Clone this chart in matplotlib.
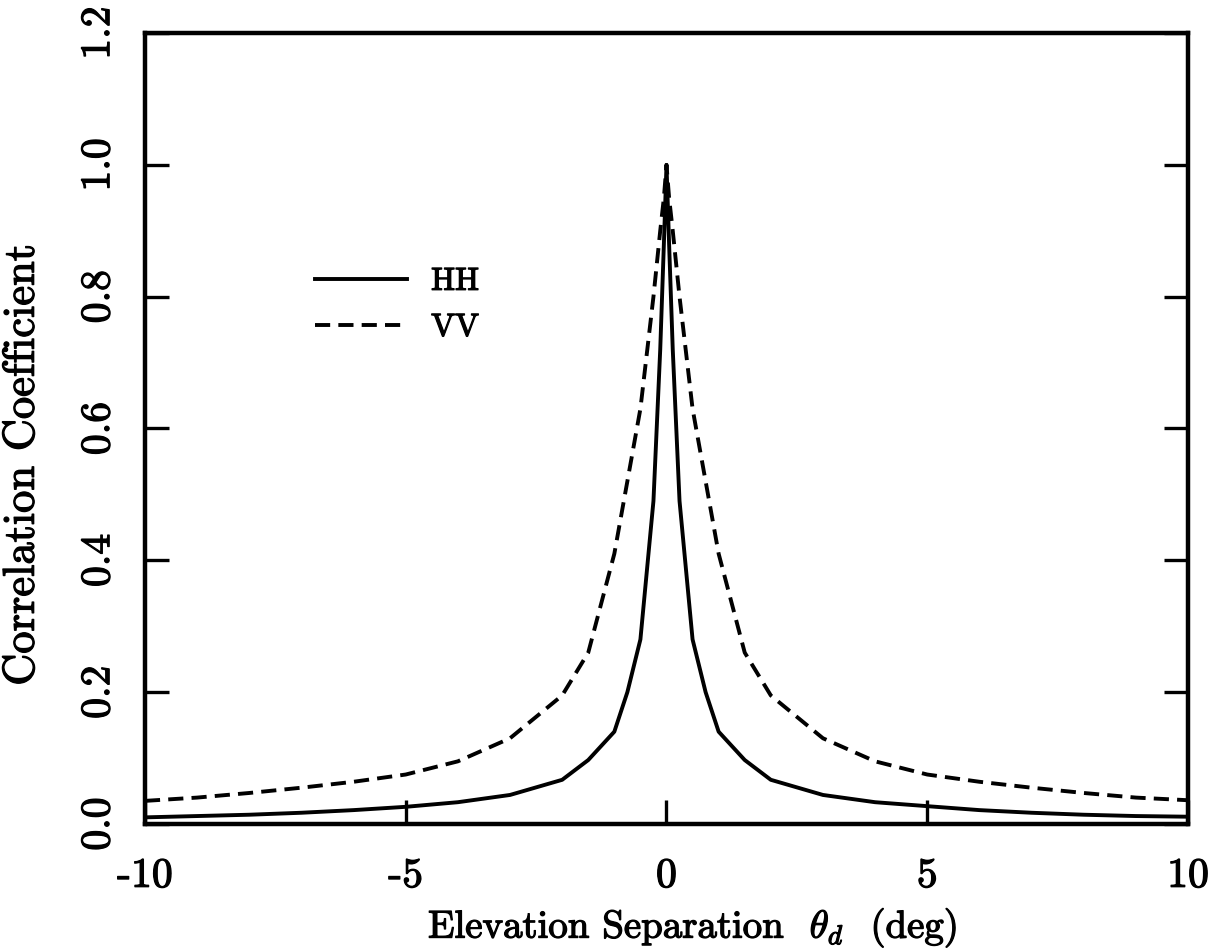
import numpy as np
import matplotlib
matplotlib.use("Agg")
import matplotlib.pyplot as plt
import matplotlib.patheffects as pe

plt.rcParams['font.family'] = 'cmr10'
plt.rcParams['mathtext.fontset'] = 'cm'
plt.rcParams['axes.unicode_minus'] = False

# Elevation separation (deg) and correlation coefficients
theta = [-10, -9, -8, -7, -6, -5, -4, -3, -2, -1.5, -1, -0.75, -0.5, -0.25, -0.12, -0.05, 0,
         0.05, 0.12, 0.25, 0.5, 0.75, 1, 1.5, 2, 3, 4, 5, 6, 7, 8, 9, 10]
hh = [0.010, 0.012, 0.014, 0.017, 0.021, 0.026, 0.033, 0.044, 0.067, 0.097, 0.14, 0.20, 0.28,
      0.49, 0.72, 0.88, 1.0,
      0.88, 0.72, 0.49, 0.28, 0.20, 0.14, 0.097, 0.067, 0.044, 0.033, 0.027, 0.021, 0.017,
      0.014, 0.012, 0.011]
vv = [0.035, 0.040, 0.047, 0.055, 0.064, 0.075, 0.095, 0.13, 0.195, 0.26, 0.41, 0.52, 0.63,
      0.80, 0.90, 0.95, 1.0,
      0.95, 0.90, 0.80, 0.63, 0.52, 0.41, 0.26, 0.195, 0.13, 0.095, 0.075, 0.064, 0.055,
      0.047, 0.040, 0.036]

xticks = [-10, -5, 0, 5, 10]
xtick_labels = ['-10', '-5', '0', '5', '10']
yticks = [0.0, 0.2, 0.4, 0.6, 0.8, 1.0, 1.2]
ytick_labels = ['0.0', '0.2', '0.4', '0.6', '0.8', '1.0', '1.2']

# slightly heavier strokes for the text
bold = [pe.withStroke(linewidth=0.9, foreground='black')]

fig = plt.figure(figsize=(12.18, 9.52), dpi=100)
ax = fig.add_axes([0.119, 0.1345, 0.8564, 0.8308])

ax.plot(theta, hh, color='black', lw=2.8, label='HH')
ax.plot(theta, vv, color='black', lw=2.8, dashes=(3.9, 2.1), label='VV')

ax.set_xlim(-10, 10)
ax.set_ylim(0, 1.2)
ax.set_xticks(xticks)
ax.set_xticklabels(xtick_labels)
ax.set_yticks(yticks)
ax.set_yticklabels(ytick_labels, rotation=90, va='center')

for s in ax.spines.values():
    s.set_linewidth(3.2)
ax.tick_params(axis='both', direction='in', length=17, width=2.4, labelsize=30)
ax.tick_params(axis='y', right=True, pad=20)
ax.tick_params(axis='x', pad=24)

ax.set_xlabel(r'Elevation Separation  $\theta_d$  (deg)', fontsize=28)
ax.xaxis.set_label_coords(0.525, -0.103)
ax.set_ylabel('Correlation Coefficient', fontsize=32)
ax.yaxis.set_label_coords(-0.098, 0.454)

leg = ax.legend(loc='upper left', bbox_to_anchor=(0.135, 0.74), frameon=False, fontsize=23,
                handlelength=2.9, handletextpad=0.75, labelspacing=0.55)

for t in ax.get_xticklabels() + ax.get_yticklabels() + leg.get_texts():
    t.set_path_effects(bold)
ax.xaxis.label.set_path_effects(bold)
ax.yaxis.label.set_path_effects(bold)

fig.savefig('out.png', dpi=100)
